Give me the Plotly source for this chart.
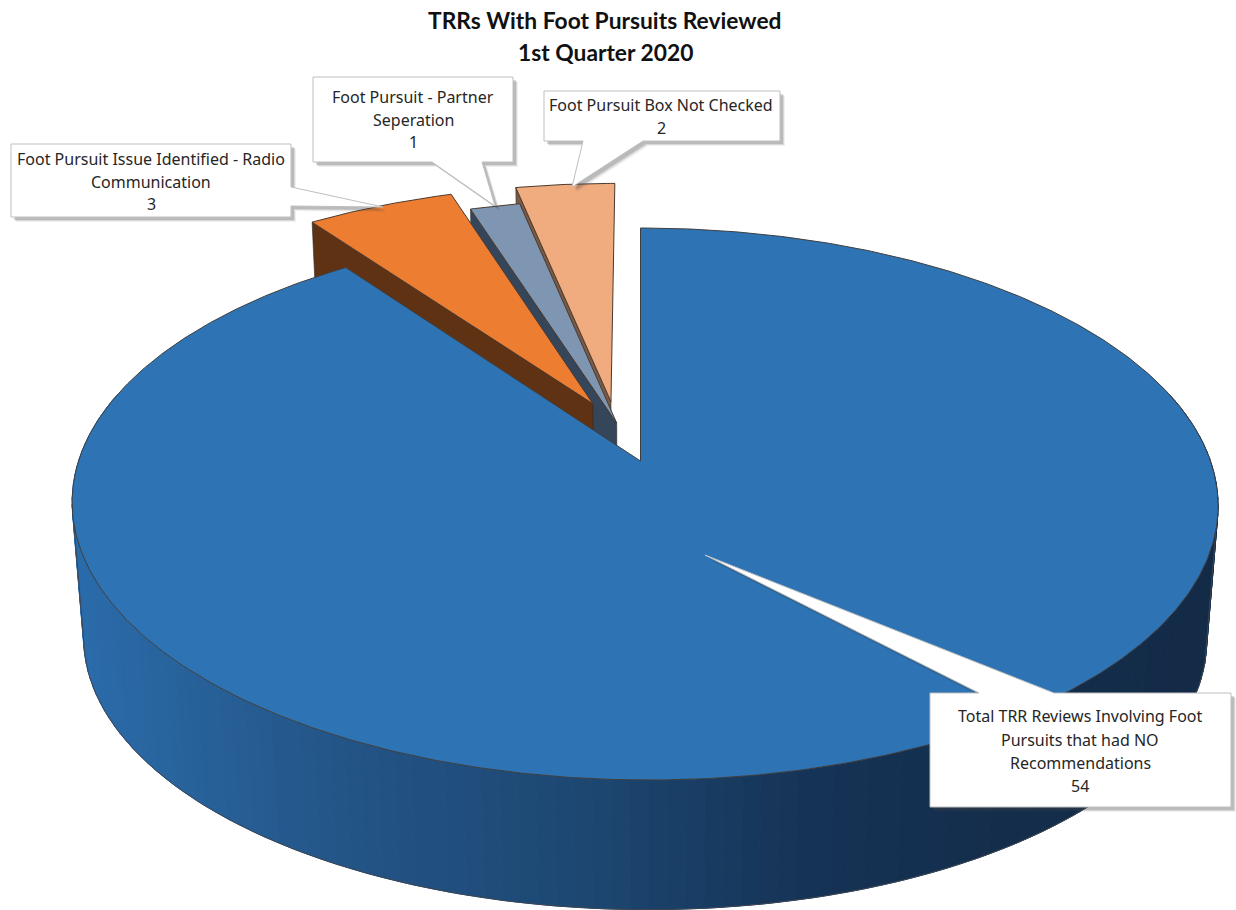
import math
import plotly.graph_objects as go

# ---- data ----
categories = [
    "Total TRR Reviews Involving Foot Pursuits that had NO Recommendations",
    "Foot Pursuit Issue Identified - Radio Communication",
    "Foot Pursuit - Partner Seperation",
    "Foot Pursuit Box Not Checked",
]
values = [54, 3, 1, 2]
title_lines = ["TRRs With Foot Pursuits Reviewed", "1st Quarter 2020"]
label_lines = [
    ["Total TRR Reviews Involving Foot", "Pursuits that had NO", "Recommendations", "54"],
    ["Foot Pursuit Issue Identified - Radio", "Communication", "3"],
    ["Foot Pursuit - Partner", "Seperation", "1"],
    ["Foot Pursuit Box Not Checked", "2"],
]

# ---- styling / layout constants ----
W, H = 1236, 910
TOP_COL = ["#2E73B3", "#ED7D31", "#7F96B2", "#F0AB7E"]
WALL_COL = [None, "#5F3213", "#36465A", "#7A5A45"]
EXPLODE = [(0, 0), (-0.087, 0.22), (-0.043, 0.144), (-0.054, 0.228)]
AX, AY, RA, RB, K = 640.5, 461, 566, 269.3, 0.1558
SKEW = 4
BOTTOM_SCALE, BOTTOM_DY = 0.98, 136
FONT = "Noto Sans"
TITLE_FONT = "Lato"
WALL_STOPS = [(71, (43, 108, 171)), (300, (37, 88, 139)), (600, (29, 70, 112)),
              (800, (22, 52, 87)), (1000, (20, 46, 76)), (1218, (19, 43, 71))]

CALLOUTS = [
    dict(poly=[(930, 693), (979, 693), (705, 555), (1054, 693), (1231, 693), (1231, 807), (930, 807)],
         cx=1080, ys=[716, 740, 763, 786]),
    dict(poly=[(11, 144), (291, 144), (291, 187), (383, 207), (291, 206), (291, 217), (11, 217)],
         cx=151, ys=[159, 182, 204]),
    dict(poly=[(313, 77), (513, 77), (513, 162), (482, 162), (495, 206), (432, 162), (313, 162)],
         cx=413, ys=[97, 120, 142]),
    dict(poly=[(544, 91), (780, 91), (780, 141), (643, 141), (572, 187), (583, 141), (544, 141)],
         cx=661, ys=[105, 128]),
]


def project(theta_deg, r=1.0, off=(0, 0), depth=0.0):
    """Perspective projection of a point of the pie disc into plot units."""
    t = math.radians(theta_deg)
    local_v = r * math.cos(t)
    u = r * math.sin(t) + off[0]
    v = local_v + off[1]
    d = 1 + K * v
    s = 1 + (BOTTOM_SCALE - 1) * depth
    return AX + SKEW * (r - local_v) + s * RA * u / d, AY + depth * BOTTOM_DY - s * RB * v / d


def wall_color(x):
    for (x0, c0), (x1, c1) in zip(WALL_STOPS, WALL_STOPS[1:]):
        if x <= x1:
            f = max(0, (x - x0) / (x1 - x0))
            return "rgb(%d,%d,%d)" % tuple(a + (b - a) * f for a, b in zip(c0, c1))
    return "rgb(%d,%d,%d)" % WALL_STOPS[-1][1]


def poly(points, fill, line=None, width=0, name=None):
    xs = [p[0] for p in points] + [points[0][0]]
    ys = [p[1] for p in points] + [points[0][1]]
    return go.Scatter(x=xs, y=ys, mode="lines", fill="toself", fillcolor=fill,
                      line=dict(color=line or fill, width=width), hoverinfo="skip" if name is None else "text",
                      text=name, showlegend=False)


total = sum(values)
starts, ends = [], []
acc = 0
for val in values:
    starts.append(acc / total * 360)
    acc += val
    ends.append(acc / total * 360)

fig = go.Figure()

# side walls of the exploded slices, far to near
for i in [3, 2, 1]:
    a = project(0, 0, EXPLODE[i])
    b = project(starts[i], 1, EXPLODE[i])
    pts = [a, b, project(starts[i], 1, EXPLODE[i], 1), project(0, 0, EXPLODE[i], 1)]
    fig.add_trace(poly(pts, WALL_COL[i], "#2a2a2a", 0.6))

# curved wall of the large slice, one strip per step
STEPS = 130
for j in range(STEPS):
    t0 = 75 + 210 * j / STEPS
    t1 = 75 + 210 * (j + 1) / STEPS
    pts = [project(t0), project(t1), project(t1, depth=1), project(t0, depth=1)]
    col = wall_color((pts[0][0] + pts[1][0]) / 2)
    fig.add_trace(poly(pts, col, col, 1))
# outer silhouette of the wall only
sil = [project(99)] + [project(99 + 162 * j / 200, depth=1) for j in range(201)] + [project(261)]
fig.add_trace(go.Scatter(x=[p[0] for p in sil], y=[p[1] for p in sil], mode="lines",
                         line=dict(color="#3c4654", width=1), hoverinfo="skip", showlegend=False))

# top faces: small slices first, large slice last
for i in [1, 2, 3, 0]:
    n = max(6, int((ends[i] - starts[i]) * 2))
    arc = [project(starts[i] + (ends[i] - starts[i]) * j / n, 1, EXPLODE[i]) for j in range(n + 1)]
    pts = [project(0, 0, EXPLODE[i])] + arc
    fig.add_trace(poly(pts, TOP_COL[i], "#3f3f3f" if i == 0 else "#4a3a30", 1, categories[i]))

# callouts with soft shadow
for c in CALLOUTS:
    for off, alpha in ((5, 0.08), (4, 0.14), (3, 0.2)):
        fig.add_trace(poly([(x + off, y + off) for x, y in c["poly"]], "rgba(70,70,70,%.2f)" % alpha))
    fig.add_trace(poly(c["poly"], "#FFFFFF", "#BFBFBF", 1))

ann = []
for line, y in zip(title_lines, (20, 52)):
    ann.append(dict(x=605, y=y, text="<b>%s</b>" % line, showarrow=False, xanchor="center", yanchor="middle",
                    font=dict(family=TITLE_FONT, size=22.8, color="#111111")))
for c, lines in zip(CALLOUTS, label_lines):
    for line, y in zip(lines, c["ys"]):
        ann.append(dict(x=c["cx"], y=y, text=line, showarrow=False, xanchor="center", yanchor="middle",
                        font=dict(family=FONT, size=16, color="#262626")))

fig.update_layout(
    width=W, height=H, margin=dict(l=0, r=0, t=0, b=0),
    paper_bgcolor="white", plot_bgcolor="white", showlegend=False,
    xaxis=dict(range=[0, W], visible=False, fixedrange=True),
    yaxis=dict(range=[H, 0], visible=False, fixedrange=True),
    annotations=ann,
)

fig.write_html("out.html", config=dict(displayModeBar=False),
               post_script="document.body.style.margin='0';document.body.style.overflow='hidden';")
